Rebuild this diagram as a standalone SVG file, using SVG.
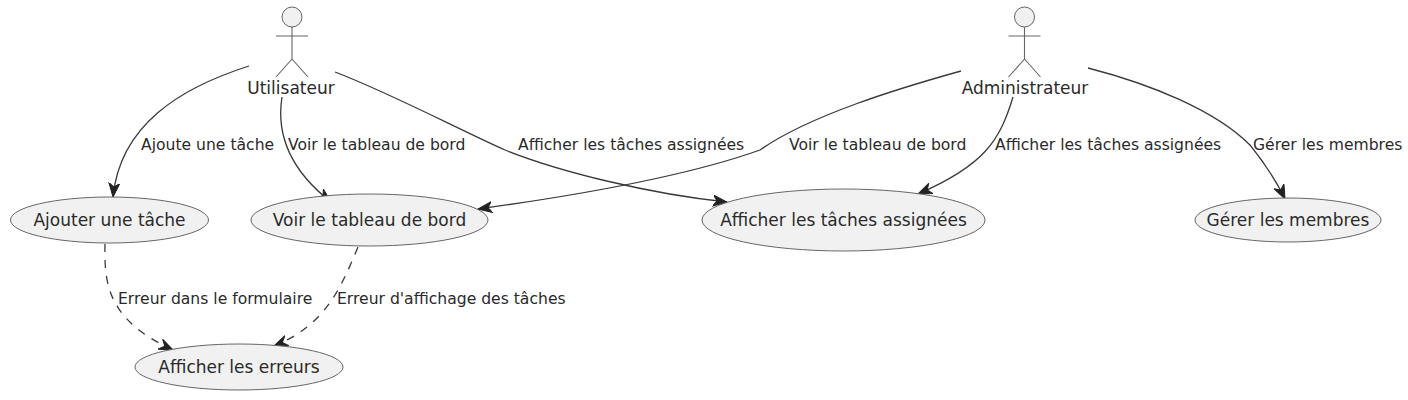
<svg xmlns="http://www.w3.org/2000/svg" width="1408" height="400" viewBox="0 0 1408 400">
<style>
text{font-family:"DejaVu Sans",sans-serif;font-size:15.6px;fill:#2a2a2a}
.n{text-anchor:middle}
.a{font-size:17px}
.u{fill:#f1f1f1;stroke:#666;stroke-width:1}
.s{fill:none;stroke:#666;stroke-width:1.1}
.c{fill:none;stroke:#3a3a3a;stroke-width:1.3}
.d{stroke-dasharray:8 8}
.h{fill:#222;stroke:#222;stroke-width:1}
</style>
<defs>
<marker id="ah" viewBox="0 0 16 12" refX="14" refY="6" markerWidth="16" markerHeight="12" markerUnits="userSpaceOnUse" orient="auto"><path class="h" d="M0 0.5L14 6L0 11.5L4 6Z"/></marker>
<marker id="op" viewBox="0 0 16 12" refX="14" refY="6" markerWidth="16" markerHeight="12" markerUnits="userSpaceOnUse" orient="auto"><path class="h" d="M0 0.5L14 6L0 11.5L5 6Z"/></marker>
</defs>
<g id="connectors">
<path class="c" marker-end="url(#ah)" d="M249 66C180 88 120 125 113 197"/>
<path class="c" marker-end="url(#ah)" d="M282 97C276 135 290 170 331 202"/>
<path class="c" marker-end="url(#ah)" d="M335 72C390 93 460 130 505 150C560 172 650 194 727 202"/>
<path class="c" marker-end="url(#ah)" d="M961 71C900 88 810 115 760 150C690 175 580 195 478 209"/>
<path class="c" marker-end="url(#ah)" d="M1013 97C1000 140 985 165 918 194"/>
<path class="c" marker-end="url(#ah)" d="M1088 68C1150 84 1215 110 1250 145C1262 160 1275 178 1285 199"/>
<path class="c d" marker-end="url(#op)" d="M105 244C104 285 108 320 173 350"/>
<path class="c d" marker-end="url(#op)" d="M358 247C340 290 325 325 274 346"/>
<text x="141" y="150">Ajoute une tâche</text>
<text x="288" y="150">Voir le tableau de bord</text>
<text x="518" y="150">Afficher les tâches assignées</text>
<text x="789" y="150">Voir le tableau de bord</text>
<text x="995" y="150">Afficher les tâches assignées</text>
<text x="1253" y="150">Gérer les membres</text>
<text x="118" y="304">Erreur dans le formulaire</text>
<text x="337" y="304">Erreur d'affichage des tâches</text>
</g>
<g id="actor-utilisateur">
<circle class="u" cx="292" cy="17" r="10"/>
<path class="s" d="M292 27V59M276 36H308M292 59L276 77M292 59L308 77"/>
<text class="n a" x="291" y="94">Utilisateur</text>
</g>
<g id="actor-administrateur">
<circle class="u" cx="1024.500" cy="17" r="10"/>
<path class="s" d="M1024.500 27V59M1008.500 36H1040.500M1024.500 59L1008.500 77M1024.500 59L1040.500 77"/>
<text class="n a" x="1025" y="94">Administrateur</text>
</g>
<g id="uc-ajouter"><ellipse class="u" cx="109.500" cy="220" rx="99" ry="23"/><text class="n a" x="109.500" y="226">Ajouter une tâche</text></g>
<g id="uc-voir"><ellipse class="u" cx="369.500" cy="220" rx="118.500" ry="26"/><text class="n a" x="369.500" y="226">Voir le tableau de bord</text></g>
<g id="uc-taches"><ellipse class="u" cx="843.500" cy="220" rx="141.500" ry="31"/><text class="n a" x="843.500" y="226">Afficher les tâches assignées</text></g>
<g id="uc-membres"><ellipse class="u" cx="1288" cy="220" rx="93" ry="22"/><text class="n a" x="1288" y="226">Gérer les membres</text></g>
<g id="uc-erreurs"><ellipse class="u" cx="239" cy="367" rx="104" ry="23"/><text class="n a" x="239" y="373">Afficher les erreurs</text></g>
</svg>
